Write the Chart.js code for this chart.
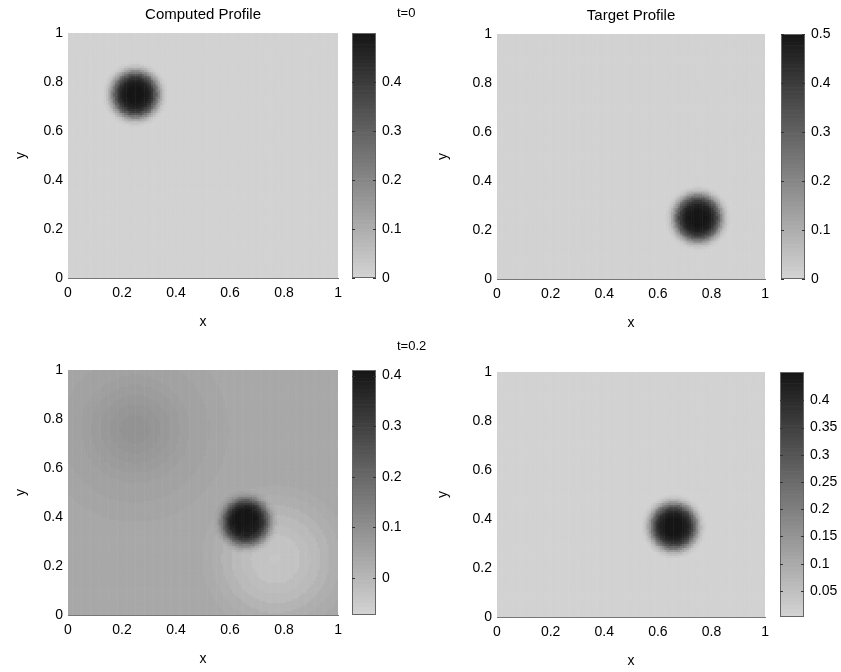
<!DOCTYPE html>
<html>
<head>
<meta charset="utf-8">
<title>Computed and target profiles</title>
<script src="https://cdn.jsdelivr.net/npm/chart.js@4.4.1/dist/chart.umd.min.js"></script>
<style>
  html, body { margin: 0; padding: 0; background: #fff; }
  body { width: 841px; height: 672px; position: relative; overflow: hidden; font-family: 'Liberation Sans', Arial, sans-serif; }
  .box { position: absolute; }
  .stamp { position: absolute; font-size: 13px; color: #000; line-height: 16px; }
</style>
</head>
<body>
<div class="box" style="left:0;top:0;width:349px;height:338px"><canvas id="computedT0"></canvas></div>
<div class="box" style="left:346px;top:0;width:70px;height:300px"><canvas id="computedT0Bar"></canvas></div>
<div class="box" style="left:429px;top:1px;width:347px;height:338px"><canvas id="targetT0"></canvas></div>
<div class="box" style="left:775px;top:1px;width:66px;height:300px"><canvas id="targetT0Bar"></canvas></div>
<div class="box" style="left:0;top:337px;width:349px;height:338px"><canvas id="computedT02"></canvas></div>
<div class="box" style="left:346px;top:337px;width:70px;height:300px"><canvas id="computedT02Bar"></canvas></div>
<div class="box" style="left:429px;top:339px;width:347px;height:338px"><canvas id="targetT02"></canvas></div>
<div class="box" style="left:774px;top:339px;width:67px;height:300px"><canvas id="targetT02Bar"></canvas></div>
<div class="stamp" style="left:397px;top:5px">t=0</div>
<div class="stamp" style="left:397px;top:338px">t=0.2</div>

<script>
// cells per side of each profile image
const GRID_N = 120;
const axisTicks = [0, 0.2, 0.4, 0.6, 0.8, 1];

// radial samples (y units) of the sharp concentration bumps
const bumpRadii = [0, 0.005, 0.01, 0.015, 0.02, 0.025, 0.03, 0.035, 0.04, 0.045, 0.05, 0.055, 0.06,
  0.065, 0.07, 0.075, 0.08, 0.085, 0.09, 0.095, 0.1, 0.105, 0.11, 0.115, 0.12, 0.125, 0.13];

// t = 0, computed
const computedT0Base = 0.004;
const computedT0Centre = [0.25, 0.75];
const computedT0Bump = [0.495, 0.495, 0.495, 0.494, 0.493, 0.492, 0.49, 0.487, 0.483, 0.477, 0.469,
  0.458, 0.443, 0.423, 0.397, 0.365, 0.327, 0.285, 0.24, 0.195, 0.151, 0.111, 0.077, 0.05, 0.03, 0.016, 0.007];
const computedT0Range = [0, 0.4995];
const computedT0Ticks = [0, 0.1, 0.2, 0.3, 0.4];

// t = 0, target
const targetT0Base = 0.004;
const targetT0Centre = [0.75, 0.25];
const targetT0Bump = [0.496, 0.496, 0.496, 0.495, 0.494, 0.493, 0.491, 0.488, 0.484, 0.478, 0.47,
  0.459, 0.444, 0.424, 0.398, 0.366, 0.328, 0.286, 0.241, 0.196, 0.152, 0.112, 0.078, 0.05, 0.03, 0.016, 0.007];
const targetT0Range = [0, 0.5];
const targetT0Ticks = [0, 0.1, 0.2, 0.3, 0.4, 0.5];

// t = 0.2, computed: sharp peak plus a faint remnant and a shallow hollow
const computedT02Base = 0.04;
const computedT02Centre = [0.66, 0.38];
const computedT02Bump = [0.408, 0.408, 0.408, 0.408, 0.407, 0.406, 0.404, 0.402, 0.398, 0.394, 0.387,
  0.378, 0.366, 0.349, 0.328, 0.301, 0.27, 0.235, 0.198, 0.161, 0.125, 0.092, 0.064, 0.041, 0.025, 0.013, 0.006];
const remnantCentre = [0.25, 0.76];
const remnantRadii = [0, 0.04, 0.08, 0.12, 0.16, 0.20, 0.24, 0.28, 0.32, 0.36];
const remnantBump = [0.048, 0.046, 0.04, 0.032, 0.024, 0.017, 0.012, 0.008, 0.005, 0.003];
const hollowCentre = [0.77, 0.23];
const hollowRadii = [0, 0.04, 0.08, 0.12, 0.16, 0.20, 0.24, 0.28, 0.32];
const hollowDip = [-0.078, -0.075, -0.068, -0.058, -0.046, -0.034, -0.022, -0.012, -0.005];
const computedT02Range = [-0.073, 0.411];
const computedT02Ticks = [0, 0.1, 0.2, 0.3, 0.4];

// t = 0.2, target
const targetT02Base = 0.006;
const targetT02Centre = [0.66, 0.37];
const targetT02Bump = [0.447, 0.447, 0.447, 0.446, 0.445, 0.444, 0.442, 0.44, 0.436, 0.431, 0.424,
  0.414, 0.4, 0.382, 0.359, 0.33, 0.295, 0.257, 0.217, 0.176, 0.136, 0.1, 0.07, 0.045, 0.027, 0.014, 0.006];
const targetT02Range = [0.002, 0.452];
const targetT02Ticks = [0.05, 0.1, 0.15, 0.2, 0.25, 0.3, 0.35, 0.4];

// reversed gray map, 64 levels
const LEVELS = 64;
const GRAY_LIGHT = 210;
const GRAY_DARK = 22;
const FONT = "'Liberation Sans', Arial, sans-serif";

function grayFor(v, range) {
  let t = (v - range[0]) / (range[1] - range[0]);
  t = Math.max(0, Math.min(1, t));
  const level = Math.min(LEVELS - 1, Math.floor(t * LEVELS));
  const g = Math.round(GRAY_LIGHT - (GRAY_LIGHT - GRAY_DARK) * level / (LEVELS - 1));
  return `rgb(${g},${g},${g})`;
}

function sampleNearest(radii, values, r) {
  const step = radii[1] - radii[0];
  const i = Math.round(r / step);
  return i < values.length ? values[i] : 0;
}

function tickText(value) {
  return String(Math.round(value * 1000) / 1000);
}

// builds the cell list from a base level and a set of radial bumps
function buildField(base, bumps, aspect, range) {
  const cells = [];
  const colors = [];
  for (let j = 0; j < GRID_N; j++) {
    for (let i = 0; i < GRID_N; i++) {
      const x = (i + 0.5) / GRID_N;
      const y = (j + 0.5) / GRID_N;
      let v = base;
      bumps.forEach(([c, radii, vals]) => {
        const r = Math.hypot((x - c[0]) * aspect, y - c[1]);
        v += sampleNearest(radii, vals, r);
      });
      cells.push({ x: x, y: y });
      colors.push(grayFor(v, range));
    }
  }
  return { cells, colors };
}

// title centred over the plot area
const panelTitle = {
  id: 'panelTitle',
  afterDraw(chart, args, opts) {
    if (!opts.text) return;
    const { ctx, chartArea } = chart;
    ctx.save();
    ctx.font = `15px ${FONT}`;
    ctx.fillStyle = '#000';
    ctx.textAlign = 'center';
    ctx.textBaseline = 'middle';
    ctx.fillText(opts.text, (chartArea.left + chartArea.right) / 2, chartArea.top - 18);
    ctx.restore();
  }
};

// frame and inner tick marks of the colour bar
const barFrame = {
  id: 'barFrame',
  afterDraw(chart) {
    const { ctx, chartArea } = chart;
    const scale = chart.scales.y;
    ctx.save();
    ctx.strokeStyle = '#666';
    ctx.lineWidth = 1;
    ctx.strokeRect(chartArea.left + 0.5, chartArea.top + 0.5, chartArea.width - 1, chartArea.height - 1);
    ctx.strokeStyle = '#333';
    scale.ticks.forEach(t => {
      const y = Math.round(scale.getPixelForValue(t.value)) + 0.5;
      ctx.beginPath();
      ctx.moveTo(chartArea.left, y);
      ctx.lineTo(chartArea.left + 3, y);
      ctx.moveTo(chartArea.right - 3, y);
      ctx.lineTo(chartArea.right, y);
      ctx.stroke();
    });
    ctx.restore();
  }
};

function drawPanel(id, field, title, yTitlePad) {
  new Chart(document.getElementById(id), {
    type: 'scatter',
    data: {
      datasets: [{
        data: field.cells,
        backgroundColor: field.colors,
        pointStyle: 'rect',
        borderWidth: 0,
        pointRadius: ctx => {
          const a = ctx.chart.chartArea;
          if (!a) return 2;
          const side = Math.max(a.width, a.height) / GRID_N + 0.5;
          return side / Math.SQRT2;
        },
        clip: 0
      }]
    },
    options: {
      responsive: true,
      maintainAspectRatio: false,
      animation: false,
      events: [],
      parsing: false,
      normalized: true,
      layout: { padding: { top: 33, right: 8, left: 0, bottom: 0 } },
      plugins: {
        legend: { display: false },
        tooltip: { enabled: false },
        panelTitle: { text: title }
      },
      scales: {
        x: {
          type: 'linear', min: 0, max: 1,
          afterBuildTicks: s => { s.ticks = axisTicks.map(v => ({ value: v })); },
          ticks: { padding: 7, color: '#000', font: { family: FONT, size: 14 }, callback: tickText },
          grid: { display: false, drawTicks: false },
          border: { display: true, color: '#777' },
          title: { display: true, text: 'x', color: '#000', font: { family: FONT, size: 14 }, padding: { top: 0, bottom: 7 } },
          afterFit: s => { s.height = 60; }
        },
        y: {
          type: 'linear', min: 0, max: 1,
          afterBuildTicks: s => { s.ticks = axisTicks.map(v => ({ value: v })); },
          ticks: { padding: 5, color: '#000', font: { family: FONT, size: 14 }, callback: tickText },
          grid: { display: false, drawTicks: false },
          border: { display: true, color: '#777' },
          title: { display: true, text: 'y', color: '#000', font: { family: FONT, size: 14 }, padding: { top: yTitlePad, bottom: 0 } },
          afterFit: s => { s.width = 68; }
        }
      }
    },
    plugins: [panelTitle]
  });
}

function drawColorBar(id, range, ticks, axisWidth) {
  const step = (range[1] - range[0]) / LEVELS;
  const datasets = [];
  for (let k = 0; k < LEVELS; k++) {
    const lo = range[0] + k * step;
    datasets.push({
      data: [[lo, lo + step]],
      backgroundColor: grayFor(lo + step / 2, range),
      borderWidth: 0,
      barPercentage: 1,
      categoryPercentage: 1,
      grouped: false
    });
  }
  new Chart(document.getElementById(id), {
    type: 'bar',
    data: { labels: ['level'], datasets: datasets },
    options: {
      responsive: true,
      maintainAspectRatio: false,
      animation: false,
      events: [],
      layout: { padding: { top: 33, left: 6, right: 0, bottom: 22 } },
      plugins: { legend: { display: false }, tooltip: { enabled: false } },
      scales: {
        x: { display: false },
        y: {
          position: 'right',
          min: range[0], max: range[1],
          afterBuildTicks: s => { s.ticks = ticks.map(v => ({ value: v })); },
          ticks: { padding: 6, color: '#000', font: { family: FONT, size: 14 }, callback: tickText },
          grid: { display: false, drawTicks: false },
          border: { display: false },
          afterFit: s => { s.width = axisWidth; }
        }
      }
    },
    plugins: [barFrame]
  });
}

const computedT0Field = buildField(computedT0Base,
  [[computedT0Centre, bumpRadii, computedT0Bump]], 269 / 245, computedT0Range);
const targetT0Field = buildField(targetT0Base,
  [[targetT0Centre, bumpRadii, targetT0Bump]], 267 / 245, targetT0Range);
const computedT02Field = buildField(computedT02Base,
  [[remnantCentre, remnantRadii, remnantBump],
   [hollowCentre, hollowRadii, hollowDip],
   [computedT02Centre, bumpRadii, computedT02Bump]], 269 / 245, computedT02Range);
const targetT02Field = buildField(targetT02Base,
  [[targetT02Centre, bumpRadii, targetT02Bump]], 267 / 244, targetT02Range);

drawPanel('computedT0', computedT0Field, 'Computed Profile', 13);
drawColorBar('computedT0Bar', computedT0Range, computedT0Ticks, 40);
drawPanel('targetT0', targetT0Field, 'Target Profile', 6);
drawColorBar('targetT0Bar', targetT0Range, targetT0Ticks, 36);
drawPanel('computedT02', computedT02Field, '', 13);
drawColorBar('computedT02Bar', computedT02Range, computedT02Ticks, 40);
drawPanel('targetT02', targetT02Field, '', 6);
drawColorBar('targetT02Bar', targetT02Range, targetT02Ticks, 37);
</script>
</body>
</html>
